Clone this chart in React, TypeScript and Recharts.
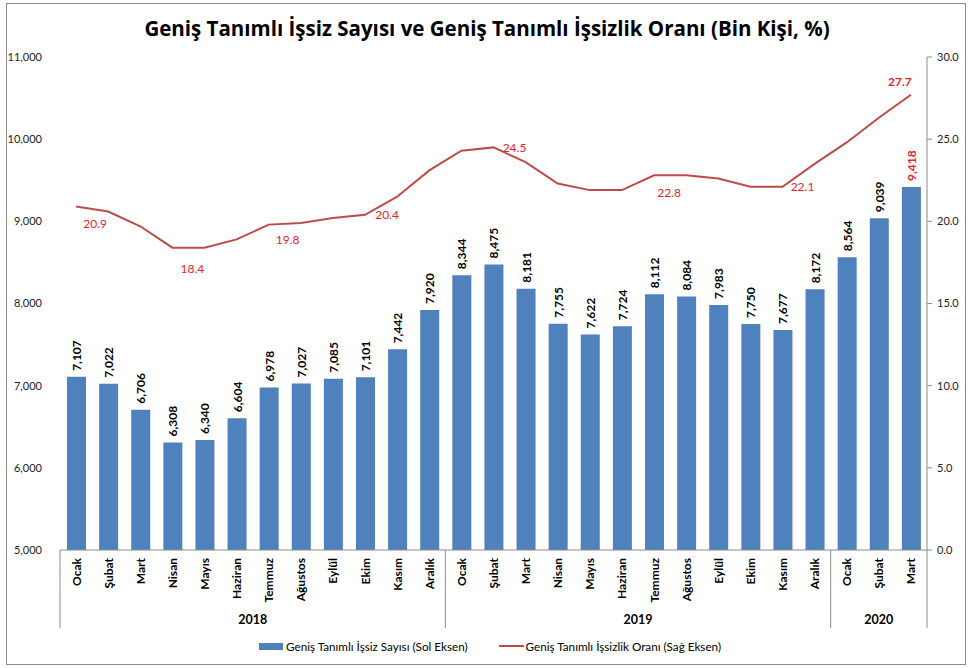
import React from "react";
import {
  ComposedChart,
  Bar,
  Line,
  XAxis,
  YAxis,
  Legend,
  LabelList,
} from "recharts";

// --- data ---
const months = [
  "Ocak", "Şubat", "Mart", "Nisan", "Mayıs", "Haziran",
  "Temmuz", "Ağustos", "Eylül", "Ekim", "Kasım", "Aralık",
  "Ocak", "Şubat", "Mart", "Nisan", "Mayıs", "Haziran",
  "Temmuz", "Ağustos", "Eylül", "Ekim", "Kasım", "Aralık",
  "Ocak", "Şubat", "Mart",
];
const years = ["2018", "2019", "2020"];
const yearSizes = [12, 12, 3];

const unemployed = [
  7107, 7022, 6706, 6308, 6340, 6604, 6978, 7027, 7085, 7101, 7442, 7920,
  8344, 8475, 8181, 7755, 7622, 7724, 8112, 8084, 7983, 7750, 7677, 8172,
  8564, 9039, 9418,
];
const rate = [
  20.9, 20.6, 19.7, 18.4, 18.4, 18.9, 19.8, 19.9, 20.2, 20.4, 21.5, 23.1,
  24.3, 24.5, 23.6, 22.3, 21.9, 21.9, 22.8, 22.8, 22.6, 22.1, 22.1, 23.5,
  24.8, 26.3, 27.7,
];

const leftTicks = [5000, 6000, 7000, 8000, 9000, 10000, 11000];
const rightTicks = [0, 5, 10, 15, 20, 25, 30];

// which rate points carry a label, and where the label sits relative to the point
const rateLabelOffsets: Record<number, [number, number]> = {
  0: [19, 17],
  3: [20, 21],
  6: [19, 15],
  9: [22, 0],
  13: [21, 0],
  18: [15, 17],
  22: [20, 0],
  26: [-11, -13],
};

const FONT = "Lato, 'Open Sans', sans-serif";
const TITLE_FONT = "'Open Sans', Lato, sans-serif";
const BAR_BLUE = "#4F81BD";
const LINE_RED = "#BE4B48";
const LABEL_RED = "#E8212B";
const AXIS_GREY = "#8C8C8C";

const groupStarts: Record<number, number> = {};
{
  let s = 0;
  yearSizes.forEach((n, g) => {
    groupStarts[s] = g;
    s += n;
  });
}

const data = months.map((m, i) => {
  let g = 0;
  let acc = 0;
  for (let k = 0; k < yearSizes.length; k++) {
    if (i < acc + yearSizes[k]) {
      g = k;
      break;
    }
    acc += yearSizes[k];
  }
  return {
    id: `${years[g]}-${m}`,
    month: m,
    year: years[g],
    unemployed: unemployed[i],
    rate: rate[i],
  };
});

const fmtThousands = (v: number) => v.toLocaleString("en-US");

function MonthTick(props: any) {
  const { x, y, payload, width, visibleTicksCount } = props;
  const i: number = payload.index;
  const band = (width || 867) / (visibleTicksCount || data.length);
  const g = groupStarts[i];
  const isLast = i === data.length - 1;
  const sepLen = 78;
  return (
    <g>
      <text
        x={-(y + 8)}
        y={x}
        transform="rotate(-90)"
        textAnchor="end"
        dominantBaseline="central"
        fontFamily={FONT}
        fontWeight="bold"
        fontSize={12}
        fill="#000"
      >
        {data[i].month}
      </text>
      {g !== undefined && (
        <>
          <line x1={x - band / 2} x2={x - band / 2} y1={y} y2={y + sepLen} stroke={AXIS_GREY} />
          <text
            x={x + ((yearSizes[g] - 1) / 2) * band}
            y={y + 69}
            textAnchor="middle"
            dominantBaseline="central"
            fontFamily={FONT}
            fontWeight="bold"
            fontSize={12.5}
            fill="#000"
          >
            {years[g]}
          </text>
        </>
      )}
      {isLast && (
        <line x1={x + band / 2} x2={x + band / 2} y1={y} y2={y + sepLen} stroke={AXIS_GREY} />
      )}
    </g>
  );
}

// rotated value label on top of each bar
function BarValueLabel(props: any) {
  const { x, y, width, value, index } = props;
  if (value == null) return null;
  const cx = Number(x) + Number(width) / 2;
  const ty = Number(y) - 6;
  const last = index === data.length - 1;
  return (
    <text
      x={-ty}
      y={cx}
      transform="rotate(-90)"
      textAnchor="start"
      dominantBaseline="central"
      fontFamily={FONT}
      fontWeight="bold"
      fontSize={12}
      fill={last ? LABEL_RED : "#000"}
    >
      {fmtThousands(Number(value))}
    </text>
  );
}

function RateLabel(props: any) {
  const { x, y, value, index } = props;
  const off = rateLabelOffsets[index];
  if (!off || value == null) return null;
  const last = index === data.length - 1;
  return (
    <text
      x={x + off[0]}
      y={y + off[1]}
      textAnchor="middle"
      dominantBaseline="central"
      fontFamily={FONT}
      fontSize={12}
      fontWeight={last ? "bold" : "normal"}
      fill={LABEL_RED}
    >
      {Number(value).toFixed(1)}
    </text>
  );
}

function LegendContent() {
  return (
    <div
      style={{
        height: 20,
        display: "flex",
        alignItems: "center",
        fontFamily: FONT,
        fontSize: 11.7,
        color: "#000",
        paddingLeft: 259,
      }}
    >
      <span style={{ display: "inline-block", width: 24, height: 7, background: BAR_BLUE }} />
      <span style={{ marginLeft: 3 }}>Geniş Tanımlı İşsiz Sayısı (Sol Eksen)</span>
      <span
        style={{
          display: "inline-block",
          width: 25,
          height: 2,
          background: LINE_RED,
          marginLeft: 31,
        }}
      />
      <span style={{ marginLeft: 2 }}>Geniş Tanımlı İşsizlik Oranı (Sağ Eksen)</span>
    </div>
  );
}

export default function App() {
  return (
    <div
      style={{
        position: "absolute",
        left: 0,
        top: 0,
        width: 971,
        height: 668,
        background: "#fff",
        overflow: "hidden",
      }}
    >
      <div
        style={{
          position: "absolute",
          left: 6,
          top: 3,
          width: 958,
          height: 660,
          border: `1px solid ${AXIS_GREY}`,
        }}
      />
      <div
        style={{
          position: "absolute",
          left: 0,
          top: 14,
          width: 974,
          textAlign: "center",
          fontFamily: TITLE_FONT,
          fontWeight: "bold",
          fontSize: 20.5,
          color: "#000",
          lineHeight: "28px",
        }}
      >
        Geniş Tanımlı İşsiz Sayısı ve Geniş Tanımlı İşsizlik Oranı (Bin Kişi, %)
      </div>
      <div style={{ position: "absolute", left: 0, top: 0 }}>
        <ComposedChart
          width={971}
          height={668}
          data={data}
          margin={{ top: 57, right: 0, bottom: 0, left: 0 }}
          barCategoryGap="41%"
        >
          <XAxis
            dataKey="id"
            xAxisId="m"
            interval={0}
            height={98}
            tickSize={0}
            tickMargin={0}
            tickLine={false}
            axisLine={{ stroke: AXIS_GREY }}
            tick={<MonthTick />}
          />
          <YAxis
            yAxisId="left"
            orientation="left"
            width={60}
            domain={[5000, 11000]}
            ticks={leftTicks}
            allowDataOverflow
            axisLine={false}
            tickLine={false}
            tickMargin={12}
            tickFormatter={fmtThousands}
            tick={{ fontFamily: FONT, fontSize: 11, fill: "#222" }}
          />
          <YAxis
            yAxisId="right"
            orientation="right"
            width={44}
            domain={[0, 30]}
            ticks={rightTicks}
            axisLine={{ stroke: AXIS_GREY }}
            tickLine={{ stroke: AXIS_GREY }}
            tickSize={5}
            tickMargin={5}
            tickFormatter={(v: number) => v.toFixed(1)}
            tick={{ fontFamily: FONT, fontSize: 11, fill: "#222", textAnchor: "start" }}
          />
          <Legend
            verticalAlign="bottom"
            content={<LegendContent />}
            wrapperStyle={{ position: "absolute", left: 0, top: 636, width: 971, height: 20 }}
          />
          <Bar
            xAxisId="m"
            yAxisId="left"
            dataKey="unemployed"
            fill={BAR_BLUE}
            barSize={19}
            isAnimationActive={false}
          >
            <LabelList dataKey="unemployed" content={<BarValueLabel />} />
          </Bar>
          <Line
            xAxisId="m"
            yAxisId="right"
            type="linear"
            dataKey="rate"
            stroke={LINE_RED}
            strokeWidth={2}
            dot={false}
            activeDot={false}
            isAnimationActive={false}
          >
            <LabelList dataKey="rate" content={<RateLabel />} />
          </Line>
        </ComposedChart>
      </div>
    </div>
  );
}
